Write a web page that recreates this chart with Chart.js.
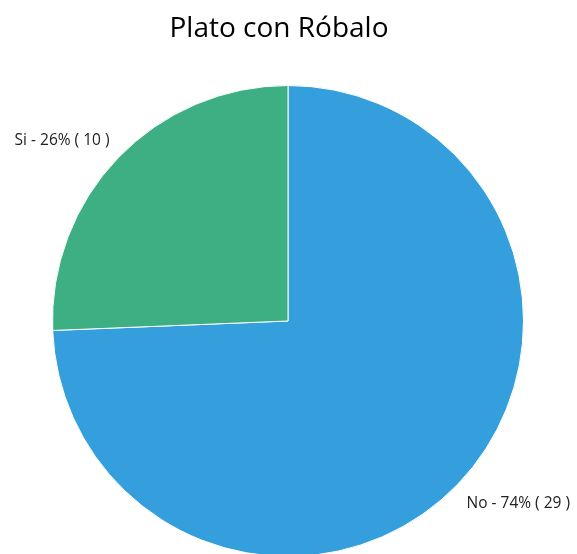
<!DOCTYPE html>
<html><head><meta charset="utf-8">
<script src="https://cdn.jsdelivr.net/npm/chart.js@4/dist/chart.umd.min.js"></script>
<style>html,body{margin:0;padding:0;overflow:hidden;background:#fff}#wrap{width:577px;height:560px;position:relative}</style>
</head><body>
<div id="wrap"><canvas id="c"></canvas></div>
<script>
const chartTitle = "Plato con Róbalo";
const categories = ["No", "Si"];
const values = [29, 10];
const colors = ["#349FDC", "#3DAF83"];

const labelPlugin = {
  id: 'outLabels',
  afterDraw(chart) {
    const ctx = chart.ctx;
    const total = values.reduce((a, b) => a + b, 0);
    ctx.save();
    ctx.fillStyle = '#000';
    ctx.font = '28px "Open Sans", "Liberation Sans", sans-serif';
    ctx.textAlign = 'center';
    ctx.textBaseline = 'middle';
    ctx.fillText(chartTitle, 279, 29);
    ctx.font = '15.5px "Open Sans", sans-serif';
    ctx.fillStyle = '#222';
    const meta = chart.getDatasetMeta(0);
    meta.data.forEach((arc, i) => {
      const pct = Math.round(values[i] / total * 100);
      const txt = categories[i] + ' - ' + pct + '% ( ' + values[i] + ' )';
      const mid = (arc.startAngle + arc.endAngle) / 2;
      const r = arc.outerRadius + 12;
      const c = Math.cos(mid), s = Math.sin(mid);
      const x = arc.x + c * r;
      const y = arc.y + s * r + (s < 0 ? -9 : 11);
      ctx.textAlign = c >= 0 ? 'left' : 'right';
      ctx.fillText(txt, x, y);
    });
    ctx.restore();
  }
};

new Chart(document.getElementById('c'), {
  type: 'pie',
  data: {
    labels: categories,
    datasets: [{ data: values, backgroundColor: colors, borderColor: '#fff', borderWidth: 1 }]
  },
  options: {
    responsive: true, maintainAspectRatio: false, animation: false,
    layout: { padding: { left: 52, right: 53, top: 85, bottom: 3 } },
    plugins: { legend: { display: false }, tooltip: { enabled: false }, title: { display: false } }
  },
  plugins: [labelPlugin]
});
</script>
</body></html>
